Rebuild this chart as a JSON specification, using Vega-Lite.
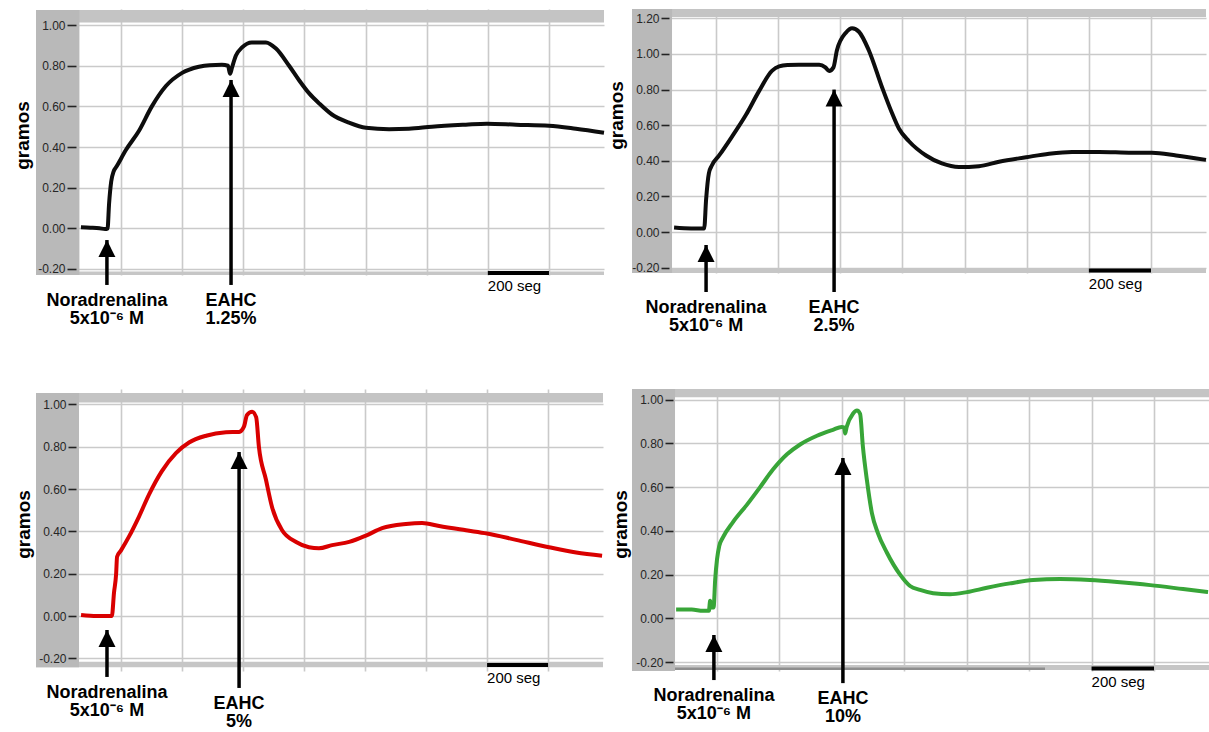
{
  "$schema": "https://vega.github.io/schema/vega-lite/v6.json",
  "background": "white",
  "padding": {"left": 13, "top": 9, "right": 0, "bottom": 2},
  "config": {
    "view": {"stroke": null},
    "font": "Liberation Sans",
    "axisLeft": {"grid": false, "domain": false, "ticks": true, "tickColor": "#222222", "tickWidth": 1.6, "labelPadding": 2, "labelFontSize": 12, "labelColor": "#262626", "labelFont": "Liberation Sans", "titleFont": "Liberation Sans", "titleFontSize": 19, "titleFontWeight": "bold", "titleColor": "#000000", "titlePadding": 5},
    "axisRight": {"grid": true, "labels": false, "ticks": false, "domain": false, "gridColor": "#cacaca", "gridWidth": 1.6},
    "axisBottom": {"grid": true, "labels": false, "ticks": false, "domain": false, "gridColor": "#cacaca", "gridWidth": 1.6}
  },
  "datasets": {
    "p1": [
      {"t": -131, "g": 0.005}, {"t": -100, "g": 0.003}, {"t": -70, "g": 0.0}, {"t": -52, "g": -0.004}, {"t": -44, "g": -0.002},
      {"t": -39, "g": 0.12}, {"t": -32, "g": 0.23}, {"t": -24, "g": 0.28}, {"t": -14, "g": 0.305}, {"t": 16, "g": 0.385},
      {"t": 59, "g": 0.48}, {"t": 101, "g": 0.6}, {"t": 147, "g": 0.7}, {"t": 200, "g": 0.765}, {"t": 255, "g": 0.795},
      {"t": 290, "g": 0.803}, {"t": 330, "g": 0.805}, {"t": 350, "g": 0.8}, {"t": 357, "g": 0.76}, {"t": 363, "g": 0.79},
      {"t": 376, "g": 0.85}, {"t": 396, "g": 0.89}, {"t": 428, "g": 0.915}, {"t": 474, "g": 0.915}, {"t": 507, "g": 0.885},
      {"t": 550, "g": 0.8}, {"t": 582, "g": 0.73}, {"t": 615, "g": 0.665}, {"t": 648, "g": 0.615}, {"t": 690, "g": 0.56},
      {"t": 746, "g": 0.52}, {"t": 801, "g": 0.495}, {"t": 877, "g": 0.488}, {"t": 942, "g": 0.49}, {"t": 1017, "g": 0.5},
      {"t": 1128, "g": 0.51}, {"t": 1197, "g": 0.515}, {"t": 1292, "g": 0.51}, {"t": 1400, "g": 0.505}, {"t": 1488, "g": 0.49},
      {"t": 1580, "g": 0.47}
    ],
    "p2": [
      {"t": -135, "g": 0.025}, {"t": -80, "g": 0.02}, {"t": -38, "g": 0.02}, {"t": -32, "g": 0.18}, {"t": -23, "g": 0.33},
      {"t": -13, "g": 0.375}, {"t": 10, "g": 0.43}, {"t": 51, "g": 0.535}, {"t": 97, "g": 0.66}, {"t": 138, "g": 0.79},
      {"t": 180, "g": 0.905}, {"t": 203, "g": 0.93}, {"t": 230, "g": 0.938}, {"t": 267, "g": 0.94}, {"t": 332, "g": 0.94}, {"t": 352, "g": 0.925},
      {"t": 364, "g": 0.905}, {"t": 378, "g": 0.925}, {"t": 389, "g": 1.02}, {"t": 418, "g": 1.12}, {"t": 438, "g": 1.145},
      {"t": 460, "g": 1.125}, {"t": 492, "g": 1.02}, {"t": 534, "g": 0.815}, {"t": 566, "g": 0.67}, {"t": 589, "g": 0.58},
      {"t": 621, "g": 0.51}, {"t": 676, "g": 0.43}, {"t": 727, "g": 0.385}, {"t": 782, "g": 0.365}, {"t": 846, "g": 0.37},
      {"t": 911, "g": 0.395}, {"t": 998, "g": 0.42}, {"t": 1072, "g": 0.44}, {"t": 1146, "g": 0.45}, {"t": 1233, "g": 0.45},
      {"t": 1339, "g": 0.445}, {"t": 1403, "g": 0.445}, {"t": 1481, "g": 0.43}, {"t": 1577, "g": 0.405}
    ],
    "p3": [
      {"t": -131, "g": 0.005}, {"t": -80, "g": 0.0}, {"t": -30, "g": 0.0}, {"t": -23, "g": 0.11}, {"t": -16, "g": 0.2},
      {"t": -13, "g": 0.28}, {"t": 0, "g": 0.31}, {"t": 26, "g": 0.375}, {"t": 59, "g": 0.47}, {"t": 92, "g": 0.575},
      {"t": 134, "g": 0.685}, {"t": 180, "g": 0.77}, {"t": 223, "g": 0.82}, {"t": 279, "g": 0.852}, {"t": 344, "g": 0.868},
      {"t": 387, "g": 0.87}, {"t": 403, "g": 0.895}, {"t": 413, "g": 0.95}, {"t": 430, "g": 0.965}, {"t": 443, "g": 0.94},
      {"t": 452, "g": 0.8}, {"t": 475, "g": 0.645}, {"t": 495, "g": 0.515}, {"t": 528, "g": 0.405}, {"t": 574, "g": 0.35},
      {"t": 616, "g": 0.325}, {"t": 649, "g": 0.32}, {"t": 692, "g": 0.335}, {"t": 748, "g": 0.35}, {"t": 803, "g": 0.38},
      {"t": 856, "g": 0.415}, {"t": 934, "g": 0.435}, {"t": 987, "g": 0.44}, {"t": 1043, "g": 0.425}, {"t": 1131, "g": 0.405},
      {"t": 1200, "g": 0.39}, {"t": 1295, "g": 0.36}, {"t": 1403, "g": 0.325}, {"t": 1492, "g": 0.3}, {"t": 1577, "g": 0.285}
    ],
    "p4": [
      {"t": -130, "g": 0.04}, {"t": -80, "g": 0.04}, {"t": -44, "g": 0.035}, {"t": -25, "g": 0.035}, {"t": -21, "g": 0.08},
      {"t": -16, "g": 0.05}, {"t": -10, "g": 0.05}, {"t": -5, "g": 0.175}, {"t": 1, "g": 0.27}, {"t": 8, "g": 0.33},
      {"t": 20, "g": 0.37}, {"t": 52, "g": 0.44}, {"t": 97, "g": 0.52}, {"t": 139, "g": 0.6}, {"t": 180, "g": 0.68},
      {"t": 225, "g": 0.75}, {"t": 267, "g": 0.795}, {"t": 321, "g": 0.835}, {"t": 372, "g": 0.862}, {"t": 400, "g": 0.875},
      {"t": 408, "g": 0.872}, {"t": 411, "g": 0.845}, {"t": 416, "g": 0.875}, {"t": 436, "g": 0.935}, {"t": 449, "g": 0.95},
      {"t": 459, "g": 0.935}, {"t": 468, "g": 0.785}, {"t": 481, "g": 0.63}, {"t": 497, "g": 0.48}, {"t": 516, "g": 0.39},
      {"t": 545, "g": 0.3}, {"t": 587, "g": 0.2}, {"t": 619, "g": 0.148}, {"t": 651, "g": 0.13}, {"t": 693, "g": 0.115},
      {"t": 747, "g": 0.11}, {"t": 801, "g": 0.12}, {"t": 865, "g": 0.14}, {"t": 939, "g": 0.16}, {"t": 1013, "g": 0.175},
      {"t": 1099, "g": 0.18}, {"t": 1195, "g": 0.175}, {"t": 1282, "g": 0.166}, {"t": 1388, "g": 0.152}, {"t": 1493, "g": 0.134},
      {"t": 1573, "g": 0.12}
    ],
    "a1": [
      {"t": -46, "tip": -0.058, "base": -0.279, "lab": ["Noradrenalina", "5x10\u207b\u2076 M"]},
      {"t": 360, "tip": 0.73, "base": -0.279, "lab": ["EAHC", "1.25%"]}
    ],
    "a2": [
      {"t": -32, "tip": -0.073, "base": -0.337, "lab": ["Noradrenalina", "5x10\u207b\u2076 M"]},
      {"t": 380, "tip": 0.8, "base": -0.337, "lab": ["EAHC", "2.5%"]}
    ],
    "a3": [
      {"t": -46, "tip": -0.066, "base": -0.288, "lab": ["Noradrenalina", "5x10\u207b\u2076 M"]},
      {"t": 387, "tip": 0.775, "base": -0.34, "lab": ["EAHC", "5%"]}
    ],
    "a4": [
      {"t": -9, "tip": -0.076, "base": -0.282, "lab": ["Noradrenalina", "5x10\u207b\u2076 M"]},
      {"t": 404, "tip": 0.733, "base": -0.296, "lab": ["EAHC", "10%"]}
    ]
  },
  "bounds": "flush",
  "columns": 2,
  "spacing": {"row": 114, "column": 28},
  "concat": [
    {
      "width": 568, "height": 266,
      "resolve": {"axis": {"y": "independent"}},
      "layer": [
        {"data": {"values": [{}]}, "mark": {"type": "rect", "color": "#c4c4c4"},
         "encoding": {"x": {"datum": -278}, "x2": {"datum": 1580},
           "y": {"datum": 1.013, "axis": {"orient": "right", "grid": true, "gridColor": "#cacaca", "gridWidth": 1.6, "labels": false, "ticks": false, "domain": false, "values": [-0.2, 0, 0.2, 0.4, 0.6, 0.8, 1.0], "title": null}},
           "y2": {"datum": 1.0744}}},
        {"data": {"values": [{}]}, "mark": {"type": "rect", "color": "#c6c6c6"},
         "encoding": {"x": {"datum": -278}, "x2": {"datum": 1580}, "y": {"datum": -0.23, "axis": null}, "y2": {"datum": -0.2128}}},
        {"data": {"values": [{}]}, "mark": {"type": "rect", "color": "#b9b9b9"},
         "encoding": {"x": {"datum": -278}, "x2": {"datum": -136},
           "y": {"datum": -0.23, "axis": {"orient": "left", "offset": -40, "tickSize": 9, "zindex": 1, "grid": false, "values": [-0.2, 0, 0.2, 0.4, 0.6, 0.8, 1.0], "labelExpr": "datum.value < 0 ? '-' + format(-datum.value, '.2f') : format(datum.value, '.2f')", "title": "gramos", "titleY": 126}},
           "y2": {"datum": 1.0744}}},
        {"data": {"name": "p1"}, "mark": {"type": "line", "color": "#0d0d0d", "strokeWidth": 4, "interpolate": "monotone"},
         "encoding": {
           "x": {"field": "t", "type": "quantitative", "scale": {"domain": [-278, 1580], "nice": false, "zero": false}, "axis": {"orient": "bottom", "values": [0, 200, 400, 600, 800, 1000, 1200, 1400], "title": null}},
           "y": {"field": "g", "type": "quantitative", "scale": {"domain": [-0.23, 1.0793], "nice": false, "zero": false}, "axis": null}}},
        {"data": {"values": [{}]}, "mark": {"type": "rule", "color": "#000000", "strokeWidth": 4},
         "encoding": {"x": {"datum": 1200}, "x2": {"datum": 1400}, "y": {"datum": -0.22, "axis": null}}},
        {"data": {"values": [{}]}, "mark": {"type": "text", "text": "200 seg", "align": "left", "baseline": "alphabetic", "fontSize": 15, "color": "#000000"},
         "encoding": {"x": {"datum": 1200}, "y": {"datum": -0.309, "axis": null}}},
        {"data": {"name": "a1"}, "mark": {"type": "rule", "color": "#000000", "strokeWidth": 3.5},
         "encoding": {"x": {"field": "t", "type": "quantitative"}, "y": {"field": "base", "type": "quantitative", "axis": null}, "y2": {"field": "tip"}}},
        {"data": {"name": "a1"}, "mark": {"type": "point", "shape": "M0,0L-1,2L1,2Z", "size": 289, "filled": true, "color": "#000000", "opacity": 1, "strokeWidth": 0},
         "encoding": {"x": {"field": "t", "type": "quantitative"}, "y": {"field": "tip", "type": "quantitative", "axis": null}}},
        {"data": {"name": "a1"}, "mark": {"type": "text", "align": "center", "baseline": "top", "dy": 7, "fontSize": 18, "fontWeight": "bold", "lineHeight": 18, "color": "#000000"},
         "encoding": {"x": {"field": "t", "type": "quantitative"}, "y": {"field": "base", "type": "quantitative", "axis": null}, "text": {"field": "lab", "type": "nominal"}}}
      ]
    },
    {
      "width": 574, "height": 264,
      "resolve": {"axis": {"y": "independent"}},
      "layer": [
        {"data": {"values": [{}]}, "mark": {"type": "rect", "color": "#c4c4c4"},
         "encoding": {"x": {"datum": -270.4}, "x2": {"datum": 1577},
           "y": {"datum": 1.2079, "axis": {"orient": "right", "grid": true, "gridColor": "#cacaca", "gridWidth": 1.6, "labels": false, "ticks": false, "domain": false, "values": [-0.2, 0, 0.2, 0.4, 0.6, 0.8, 1.0, 1.2], "title": null}},
           "y2": {"datum": 1.2528}}},
        {"data": {"values": [{}]}, "mark": {"type": "rect", "color": "#c6c6c6"},
         "encoding": {"x": {"datum": -270.4}, "x2": {"datum": 1577}, "y": {"datum": -0.2303, "axis": null}, "y2": {"datum": -0.2022}}},
        {"data": {"values": [{}]}, "mark": {"type": "rect", "color": "#b9b9b9"},
         "encoding": {"x": {"datum": -270.4}, "x2": {"datum": -141.6},
           "y": {"datum": -0.2303, "axis": {"orient": "left", "offset": -37, "tickSize": 8, "zindex": 1, "grid": false, "values": [-0.2, 0, 0.2, 0.4, 0.6, 0.8, 1.0, 1.2], "labelExpr": "datum.value < 0 ? '-' + format(-datum.value, '.2f') : format(datum.value, '.2f')", "title": "gramos", "titleY": 106}},
           "y2": {"datum": 1.2528}}},
        {"data": {"name": "p2"}, "mark": {"type": "line", "color": "#0d0d0d", "strokeWidth": 4, "interpolate": "monotone"},
         "encoding": {
           "x": {"field": "t", "type": "quantitative", "scale": {"domain": [-270.4, 1577], "nice": false, "zero": false}, "axis": {"orient": "bottom", "values": [0, 200, 400, 600, 800, 1000, 1200, 1400], "title": null}},
           "y": {"field": "g", "type": "quantitative", "scale": {"domain": [-0.2303, 1.2528], "nice": false, "zero": false}, "axis": null}}},
        {"data": {"values": [{}]}, "mark": {"type": "rule", "color": "#000000", "strokeWidth": 4},
         "encoding": {"x": {"datum": 1200}, "x2": {"datum": 1400}, "y": {"datum": -0.216, "axis": null}}},
        {"data": {"values": [{}]}, "mark": {"type": "text", "text": "200 seg", "align": "left", "baseline": "alphabetic", "fontSize": 15, "color": "#000000"},
         "encoding": {"x": {"datum": 1200}, "y": {"datum": -0.32, "axis": null}}},
        {"data": {"name": "a2"}, "mark": {"type": "rule", "color": "#000000", "strokeWidth": 3.5},
         "encoding": {"x": {"field": "t", "type": "quantitative"}, "y": {"field": "base", "type": "quantitative", "axis": null}, "y2": {"field": "tip"}}},
        {"data": {"name": "a2"}, "mark": {"type": "point", "shape": "M0,0L-1,2L1,2Z", "size": 289, "filled": true, "color": "#000000", "opacity": 1, "strokeWidth": 0},
         "encoding": {"x": {"field": "t", "type": "quantitative"}, "y": {"field": "tip", "type": "quantitative", "axis": null}}},
        {"data": {"name": "a2"}, "mark": {"type": "text", "align": "center", "baseline": "top", "dy": 7, "fontSize": 18, "fontWeight": "bold", "lineHeight": 18, "color": "#000000"},
         "encoding": {"x": {"field": "t", "type": "quantitative"}, "y": {"field": "base", "type": "quantitative", "axis": null}, "text": {"field": "lab", "type": "nominal"}}}
      ]
    },
    {
      "width": 567, "height": 282,
      "resolve": {"axis": {"y": "independent"}},
      "layer": [
        {"data": {"values": [{}]}, "mark": {"type": "rect", "color": "#c4c4c4"},
         "encoding": {"x": {"datum": -278.7}, "x2": {"datum": 1580},
           "y": {"datum": 1.009, "axis": {"orient": "right", "grid": true, "gridColor": "#cacaca", "gridWidth": 1.6, "labels": false, "ticks": false, "domain": false, "values": [-0.2, 0, 0.2, 0.4, 0.6, 0.8, 1.0], "title": null}},
           "y2": {"datum": 1.0539}}},
        {"data": {"values": [{}]}, "mark": {"type": "rect", "color": "#c6c6c6"},
         "encoding": {"x": {"datum": -278.7}, "x2": {"datum": 1580}, "y": {"datum": -0.2425, "axis": null}, "y2": {"datum": -0.216}}},
        {"data": {"values": [{}]}, "mark": {"type": "rect", "color": "#b9b9b9"},
         "encoding": {"x": {"datum": -278.7}, "x2": {"datum": -137.7},
           "y": {"datum": -0.2425, "axis": {"orient": "left", "offset": -40, "tickSize": 8, "zindex": 1, "grid": false, "values": [-0.2, 0, 0.2, 0.4, 0.6, 0.8, 1.0], "labelExpr": "datum.value < 0 ? '-' + format(-datum.value, '.2f') : format(datum.value, '.2f')", "title": "gramos", "titleY": 135}},
           "y2": {"datum": 1.0539}}},
        {"data": {"name": "p3"}, "mark": {"type": "line", "color": "#d90000", "strokeWidth": 4, "interpolate": "monotone"},
         "encoding": {
           "x": {"field": "t", "type": "quantitative", "scale": {"domain": [-278.7, 1580], "nice": false, "zero": false}, "axis": {"orient": "bottom", "values": [0, 200, 400, 600, 800, 1000, 1200, 1400], "title": null}},
           "y": {"field": "g", "type": "quantitative", "scale": {"domain": [-0.2599, 1.0728], "nice": false, "zero": false}, "axis": null}}},
        {"data": {"values": [{}]}, "mark": {"type": "rule", "color": "#000000", "strokeWidth": 4},
         "encoding": {"x": {"datum": 1200}, "x2": {"datum": 1400}, "y": {"datum": -0.2316, "axis": null}}},
        {"data": {"values": [{}]}, "mark": {"type": "text", "text": "200 seg", "align": "left", "baseline": "alphabetic", "fontSize": 15, "color": "#000000"},
         "encoding": {"x": {"datum": 1200}, "y": {"datum": -0.317, "axis": null}}},
        {"data": {"name": "a3"}, "mark": {"type": "rule", "color": "#000000", "strokeWidth": 3.5},
         "encoding": {"x": {"field": "t", "type": "quantitative"}, "y": {"field": "base", "type": "quantitative", "axis": null}, "y2": {"field": "tip"}}},
        {"data": {"name": "a3"}, "mark": {"type": "point", "shape": "M0,0L-1,2L1,2Z", "size": 289, "filled": true, "color": "#000000", "opacity": 1, "strokeWidth": 0},
         "encoding": {"x": {"field": "t", "type": "quantitative"}, "y": {"field": "tip", "type": "quantitative", "axis": null}}},
        {"data": {"name": "a3"}, "mark": {"type": "text", "align": "center", "baseline": "top", "dy": 7, "fontSize": 18, "fontWeight": "bold", "lineHeight": 18, "color": "#000000"},
         "encoding": {"x": {"field": "t", "type": "quantitative"}, "y": {"field": "base", "type": "quantitative", "axis": null}, "text": {"field": "lab", "type": "nominal"}}}
      ]
    },
    {
      "width": 577, "height": 282,
      "resolve": {"axis": {"y": "independent"}},
      "layer": [
        {"data": {"values": [{}]}, "mark": {"type": "rect", "color": "#c4c4c4"},
         "encoding": {"x": {"datum": -271.2}, "x2": {"datum": 1576},
           "y": {"datum": 1.0105, "axis": {"orient": "right", "grid": true, "gridColor": "#cacaca", "gridWidth": 1.6, "labels": false, "ticks": false, "domain": false, "values": [-0.2, 0, 0.2, 0.4, 0.6, 0.8, 1.0], "title": null}},
           "y2": {"datum": 1.0485}}},
        {"data": {"values": [{}]}, "mark": {"type": "rect", "color": "#c6c6c6"},
         "encoding": {"x": {"datum": -271.2}, "x2": {"datum": 1576}, "y": {"datum": -0.2366, "axis": null}, "y2": {"datum": -0.2137}}},
        {"data": {"values": [{}]}, "mark": {"type": "rect", "color": "#8e8e8e"},
         "encoding": {"x": {"datum": -133.5}, "x2": {"datum": 1051}, "y": {"datum": -0.2366, "axis": null}, "y2": {"datum": -0.2251}}},
        {"data": {"values": [{}]}, "mark": {"type": "rect", "color": "#b9b9b9"},
         "encoding": {"x": {"datum": -271.2}, "x2": {"datum": -133.5},
           "y": {"datum": -0.2406, "axis": {"orient": "left", "offset": -41, "tickSize": 8, "zindex": 1, "grid": false, "values": [-0.2, 0, 0.2, 0.4, 0.6, 0.8, 1.0], "labelExpr": "datum.value < 0 ? '-' + format(-datum.value, '.2f') : format(datum.value, '.2f')", "title": "gramos", "titleY": 135}},
           "y2": {"datum": 1.0485}}},
        {"data": {"name": "p4"}, "mark": {"type": "line", "color": "#38a538", "strokeWidth": 4, "interpolate": "monotone"},
         "encoding": {
           "x": {"field": "t", "type": "quantitative", "scale": {"domain": [-271.2, 1576], "nice": false, "zero": false}, "axis": {"orient": "bottom", "values": [0, 200, 400, 600, 800, 1000, 1200, 1400], "title": null}},
           "y": {"field": "g", "type": "quantitative", "scale": {"domain": [-0.2406, 1.0485], "nice": false, "zero": false}, "axis": null}}},
        {"data": {"values": [{}]}, "mark": {"type": "rule", "color": "#000000", "strokeWidth": 4},
         "encoding": {"x": {"datum": 1200}, "x2": {"datum": 1400}, "y": {"datum": -0.2295, "axis": null}}},
        {"data": {"values": [{}]}, "mark": {"type": "text", "text": "200 seg", "align": "left", "baseline": "alphabetic", "fontSize": 15, "color": "#000000"},
         "encoding": {"x": {"datum": 1200}, "y": {"datum": -0.314, "axis": null}}},
        {"data": {"name": "a4"}, "mark": {"type": "rule", "color": "#000000", "strokeWidth": 3.5},
         "encoding": {"x": {"field": "t", "type": "quantitative"}, "y": {"field": "base", "type": "quantitative", "axis": null}, "y2": {"field": "tip"}}},
        {"data": {"name": "a4"}, "mark": {"type": "point", "shape": "M0,0L-1,2L1,2Z", "size": 289, "filled": true, "color": "#000000", "opacity": 1, "strokeWidth": 0},
         "encoding": {"x": {"field": "t", "type": "quantitative"}, "y": {"field": "tip", "type": "quantitative", "axis": null}}},
        {"data": {"name": "a4"}, "mark": {"type": "text", "align": "center", "baseline": "top", "dy": 7, "fontSize": 18, "fontWeight": "bold", "lineHeight": 18, "color": "#000000"},
         "encoding": {"x": {"field": "t", "type": "quantitative"}, "y": {"field": "base", "type": "quantitative", "axis": null}, "text": {"field": "lab", "type": "nominal"}}}
      ]
    }
  ]
}
